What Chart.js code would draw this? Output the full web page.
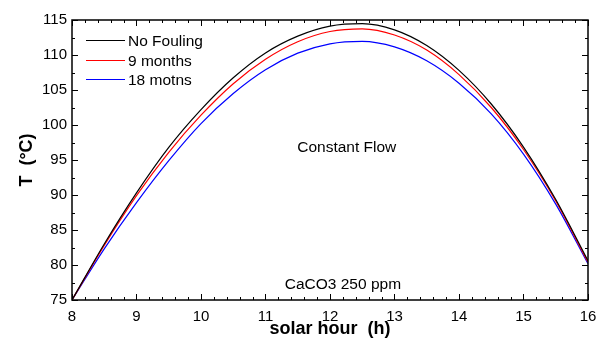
<!DOCTYPE html>
<html>
<head>
<meta charset="utf-8">
<script src="https://cdn.jsdelivr.net/npm/chart.js@4"></script>
<style>
html,body{margin:0;padding:0;background:#fff;}
#wrap{width:598px;height:340px;}
</style>
</head>
<body>
<div id="wrap"><canvas id="c" width="598" height="340"></canvas></div>
<script>
const hours = [8, 8.5, 9, 9.5, 10, 10.5, 11, 11.5, 12, 12.5, 13, 13.5, 14, 14.5, 15, 15.5, 16];
const noFouling = [75.0, 83.0, 90.3, 96.8, 102.2, 106.75, 110.3, 112.7, 114.13, 114.48, 113.59, 111.35, 107.8, 103.0, 96.85, 89.35, 80.6];
const nineMonths = [75.0, 82.8, 89.9, 96.1, 101.4, 105.9, 109.4, 111.9, 113.36, 113.73, 112.85, 110.7, 107.2, 102.5, 96.5, 89.15, 80.4];
const eighteenMonths = [75.0, 82.3, 88.9, 94.9, 100.2, 104.5, 107.9, 110.26, 111.6, 111.95, 111.16, 109.17, 105.97, 101.6, 95.85, 88.7, 80.2];
const seriesLabels = ['No Fouling', '9 months', '18 motns'];
const seriesColors = ['#000000', '#ff0000', '#0000ff'];
const xTicks = [8, 9, 10, 11, 12, 13, 14, 15, 16];
const yTicks = [75, 80, 85, 90, 95, 100, 105, 110, 115];
const notes = [
  {text: 'Constant Flow', x: 12.26, y: 96.8},
  {text: 'CaCO3 250 ppm', x: 12.2, y: 77.2}
];

const FONT = '"Liberation Sans", Arial, sans-serif';

function pts(ys){ return hours.map((h,i)=>({x:h, y:ys[i]})); }

const frameTicks = {
  id: 'frameTicks',
  afterDatasetsDraw(chart){
    const {ctx, chartArea:a, scales:{x, y}} = chart;
    ctx.save();
    ctx.strokeStyle = '#000';
    ctx.lineWidth = 1;
    ctx.beginPath();
    for (let v = 8; v <= 16.0001; v += 0.2) {
      const px = Math.round(x.getPixelForValue(v)) + 0.5;
      const major = Math.abs(v - Math.round(v)) < 1e-6;
      const L = major ? 6 : 3;
      ctx.moveTo(px, a.bottom); ctx.lineTo(px, a.bottom - L);
      ctx.moveTo(px, a.top); ctx.lineTo(px, a.top + L);
    }
    for (let v = 75; v <= 115.0001; v += 2.5) {
      const py = Math.round(y.getPixelForValue(v)) + 0.5;
      const major = Math.abs(v / 5 - Math.round(v / 5)) < 1e-6;
      const L = major ? 6 : 3;
      ctx.moveTo(a.left, py); ctx.lineTo(a.left + L, py);
      ctx.moveTo(a.right, py); ctx.lineTo(a.right - L, py);
    }
    ctx.stroke();
    ctx.lineWidth = 1.5;
    ctx.strokeRect(a.left, a.top, a.right - a.left, a.bottom - a.top);
    // legend
    ctx.font = '15.5px ' + FONT;
    ctx.textBaseline = 'middle';
    ctx.textAlign = 'left';
    const rows = [40.5, 60.5, 79.5];
    seriesLabels.forEach((lab, i) => {
      ctx.strokeStyle = seriesColors[i];
      ctx.lineWidth = 1;
      ctx.beginPath();
      ctx.moveTo(86, rows[i]); ctx.lineTo(125, rows[i]);
      ctx.stroke();
      ctx.fillStyle = '#000';
      ctx.fillText(lab, 128, rows[i] + 1);
    });
    // notes
    ctx.font = '15.5px ' + FONT;
    ctx.textAlign = 'center';
    notes.forEach(n => {
      ctx.fillText(n.text, x.getPixelForValue(n.x), y.getPixelForValue(n.y));
    });
    ctx.restore();
  }
};

new Chart(document.getElementById('c'), {
  type: 'line',
  data: {
    datasets: [noFouling, nineMonths, eighteenMonths].map((ys, i) => ({
      label: seriesLabels[i],
      data: pts(ys),
      borderColor: seriesColors[i],
      backgroundColor: seriesColors[i],
      borderWidth: 1.2,
      pointRadius: 0,
      fill: false,
      cubicInterpolationMode: 'monotone'
    }))
  },
  options: {
    responsive: false,
    animation: false,
    devicePixelRatio: 1,
    layout: {padding: {left: 0, right: 10, top: 20, bottom: 0}},
    plugins: {legend: {display: false}, tooltip: {enabled: false}},
    scales: {
      x: {
        type: 'linear', min: 8, max: 16,
        afterBuildTicks(s){ s.ticks = xTicks.map(v => ({value: v})); },
        afterFit(s){ s.height = 40; s.paddingLeft = 0; s.paddingRight = 0; },
        grid: {display: false, drawTicks: false},
        border: {display: false},
        ticks: {color: '#000', font: {family: FONT, size: 15}, padding: 8, maxRotation: 0},
        title: {display: true, text: 'solar hour  (h)', color: '#000', font: {family: FONT, size: 18, weight: 'bold'}, padding: {top: 0, bottom: 0}}
      },
      y: {
        type: 'linear', min: 75, max: 115,
        afterBuildTicks(s){ s.ticks = yTicks.map(v => ({value: v})); },
        afterFit(s){ s.width = 72; s.paddingTop = 0; s.paddingBottom = 0; },
        grid: {display: false, drawTicks: false},
        border: {display: false},
        ticks: {color: '#000', font: {family: FONT, size: 15}, padding: 5},
        title: {display: true, text: 'T  (°C)', color: '#000', font: {family: FONT, size: 18, weight: 'bold'}, padding: {top: 16, bottom: 0}}
      }
    }
  },
  plugins: [frameTicks]
});
</script>
</body>
</html>
